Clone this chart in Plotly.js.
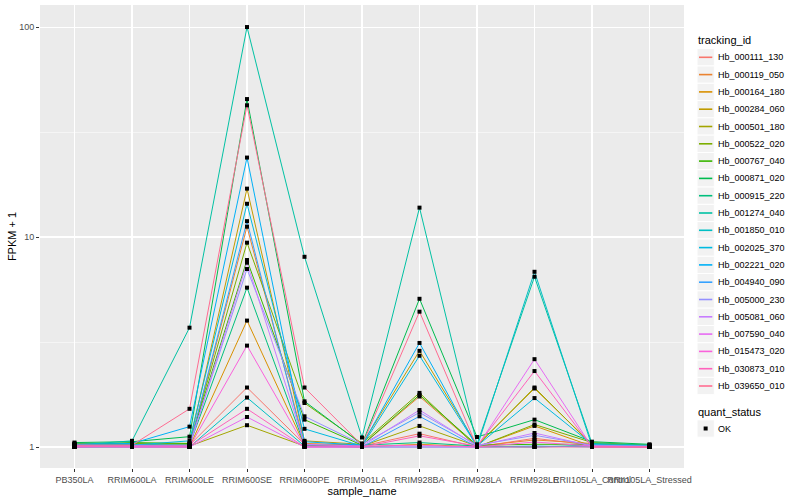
<!DOCTYPE html>
<html>
<head>
<meta charset="utf-8">
<script src="https://cdn.plot.ly/plotly-3.0.1.min.js"></script>
<style>html,body{margin:0;padding:0;background:#fff;}#chart{width:800px;height:500px;}</style>
</head>
<body>
<div id="chart"></div>
<script>
const samples = ["PB350LA","RRIM600LA","RRIM600LE","RRIM600SE","RRIM600PE","RRIM901LA","RRIM928BA","RRIM928LA","RRIM928LE","RRII105LA_Control","RRII105LA_Stressed"];
const trackingIds = ["Hb_000111_130","Hb_000119_050","Hb_000164_180","Hb_000284_060","Hb_000501_180","Hb_000522_020","Hb_000767_040","Hb_000871_020","Hb_000915_220","Hb_001274_040","Hb_001850_010","Hb_002025_370","Hb_002221_020","Hb_004940_090","Hb_005000_230","Hb_005081_060","Hb_007590_040","Hb_015473_020","Hb_030873_010","Hb_039650_010"];
const colors = ["#F8766D","#EA8331","#D89000","#C09B00","#A3A500","#7CAE00","#39B600","#00BB4E","#00BF7D","#00C1A3","#00BFC4","#00BAE0","#00B0F6","#35A2FF","#9590FF","#C77CFF","#E76BF3","#FA62DB","#FF62BC","#FF6C91"];
const quantStatus = ["OK"];

// FPKM + 1 per sample, indexed in trackingIds order
const PB350LA    = [1.02,1.01,1.00,1.03,1.01,1.04,1.02,1.05,1.03,1.02,1.00,1.01,1.03,1.00,1.02,1.01,1.00,1.01,1.00,1.02];
const RRIM600LA  = [1.01,1.02,1.00,1.03,1.01,1.04,1.05,1.06,1.03,1.07,1.00,1.02,1.04,1.01,1.02,1.01,1.00,1.00,1.01,1.02];
const RRIM600LE  = [1.02,1.01,1.00,1.04,1.01,1.03,1.04,1.12,1.02,3.70,1.00,1.07,1.25,1.01,1.02,1.01,1.00,1.00,1.01,1.52];
const RRIM600SE  = [1.92,11.2,4.00,17.0,1.27,9.40,7.77,45.4,5.74,100.0,1.72,14.4,23.9,11.9,7.04,7.55,1.39,3.04,1.52,42.4];
const RRIM600PE  = [1.03,1.04,1.02,1.07,1.01,1.62,1.35,1.65,1.02,8.05,1.01,1.22,1.06,1.00,1.40,1.03,1.00,1.01,1.00,1.92];
const RRIM901LA  = [1.01,1.02,1.00,1.03,1.01,1.04,1.02,1.03,1.02,1.11,1.00,1.01,1.02,1.00,1.03,1.01,1.00,1.01,1.00,1.02];
const RRIM928BA  = [1.157,1.74,1.03,2.87,1.26,1.81,1.77,5.08,1.05,13.8,1.00,2.72,3.13,1.40,1.46,1.50,1.00,1.02,1.13,4.41];
const RRIM928LA  = [1.00,1.01,1.00,1.02,1.01,1.00,1.02,1.116,1.01,1.03,1.00,1.01,1.00,1.00,1.02,1.01,1.00,1.00,1.01,1.00];
const RRIM928LE  = [1.10,1.08,1.26,1.90,1.92,1.28,1.03,1.35,1.00,6.47,6.83,1.71,1.01,1.00,1.137,1.166,2.62,1.056,2.30,1.00];
const RRII105LA_Control  = [1.02,1.04,1.01,1.03,1.02,1.05,1.03,1.06,1.02,1.04,1.01,1.03,1.00,1.01,1.02,1.01,1.00,1.01,1.00,1.00];
const RRII105LA_Stressed = [1.01,1.02,1.00,1.01,1.00,1.02,1.01,1.03,1.01,1.02,1.00,1.01,1.00,1.00,1.01,1.00,1.00,1.00,1.00,1.00];

const bySample = [PB350LA,RRIM600LA,RRIM600LE,RRIM600SE,RRIM600PE,RRIM901LA,RRIM928BA,RRIM928LA,RRIM928LE,RRII105LA_Control,RRII105LA_Stressed];

const FONT = "Liberation Sans, Arial, sans-serif";
const traces = trackingIds.map((id, i) => ({
  type: "scatter", mode: "lines", name: id,
  x: samples, y: bySample.map(arr => arr[i]),
  line: {color: colors[i], width: 1},
  hoverinfo: "skip", showlegend: false
}));
const px = [], py = [];
samples.forEach((s, j) => bySample[j].forEach(v => { px.push(s); py.push(v); }));
traces.push({
  type: "scatter", mode: "markers", name: quantStatus[0],
  x: px, y: py,
  marker: {color: "#000", size: 4, symbol: "square"},
  hoverinfo: "skip", showlegend: false
});

// ---- manual ggplot-style legend (layout only) ----
const W = 800, H = 500, M = {l: 40, r: 116, t: 5, b: 32};
const PW = W - M.l - M.r, PH = H - M.t - M.b;
const fx = p => (p - M.l) / PW;
const fy = p => (H - M.b - p) / PH;
const LEG_X = 697, KEY = 17.3, ROW0 = 57.3;
const shapes = [], annotations = [];
annotations.push({xref: "paper", yref: "paper", x: fx(LEG_X - 1), y: fy(40), xanchor: "left", yanchor: "middle",
  text: "tracking_id", showarrow: false, font: {family: FONT, size: 11, color: "#000"}});
trackingIds.forEach((id, i) => {
  const cy = ROW0 + i * KEY;
  shapes.push({type: "rect", xref: "paper", yref: "paper", x0: fx(LEG_X), x1: fx(LEG_X + KEY), y0: fy(cy - KEY / 2), y1: fy(cy + KEY / 2),
    fillcolor: "#F2F2F2", line: {color: "#fff", width: 1}, layer: "above"});
  shapes.push({type: "line", xref: "paper", yref: "paper", x0: fx(LEG_X + 2), x1: fx(LEG_X + KEY - 2), y0: fy(cy), y1: fy(cy),
    line: {color: colors[i], width: 1.6}, layer: "above"});
  annotations.push({xref: "paper", yref: "paper", x: fx(LEG_X + KEY + 2), y: fy(cy), xanchor: "left", yanchor: "middle",
    text: id, showarrow: false, font: {family: FONT, size: 9, color: "#000"}});
});
annotations.push({xref: "paper", yref: "paper", x: fx(LEG_X - 1), y: fy(412), xanchor: "left", yanchor: "middle",
  text: "quant_status", showarrow: false, font: {family: FONT, size: 11, color: "#000"}});
quantStatus.forEach((q, i) => {
  const cy = 428.5 + i * KEY;
  shapes.push({type: "rect", xref: "paper", yref: "paper", x0: fx(LEG_X), x1: fx(LEG_X + KEY), y0: fy(cy - KEY / 2), y1: fy(cy + KEY / 2),
    fillcolor: "#F2F2F2", line: {color: "#fff", width: 1}, layer: "above"});
  shapes.push({type: "rect", xref: "paper", yref: "paper", x0: fx(LEG_X + KEY / 2 - 2), x1: fx(LEG_X + KEY / 2 + 2), y0: fy(cy - 2), y1: fy(cy + 2),
    fillcolor: "#000", line: {width: 0}, layer: "above"});
  annotations.push({xref: "paper", yref: "paper", x: fx(LEG_X + KEY + 2), y: fy(cy), xanchor: "left", yanchor: "middle",
    text: q, showarrow: false, font: {family: FONT, size: 9, color: "#000"}});
});

const layout = {
  width: W, height: H,
  margin: {l: M.l, r: M.r, t: M.t, b: M.b, pad: 0},
  paper_bgcolor: "#fff", plot_bgcolor: "#EBEBEB",
  font: {family: FONT, size: 9, color: "#000"},
  showlegend: false,
  xaxis: {
    type: "category", range: [-0.6, 10.6], tickangle: 0,
    showgrid: true, gridcolor: "#fff", gridwidth: 1.1,
    ticks: "outside", ticklen: 3, tickcolor: "#333", tickwidth: 1,
    tickfont: {family: FONT, size: 9, color: "#4D4D4D"},
    showline: false, zeroline: false,
    title: {text: "sample_name", font: {family: FONT, size: 11, color: "#000"}, standoff: 3}
  },
  yaxis: {
    type: "log", range: [-0.1, 2.105],
    tickvals: [1, 10, 100], ticktext: ["1", "10", "100"],
    showgrid: true, gridcolor: "#fff", gridwidth: 1.1,
    minor: {tickvals: [3.1623, 31.623], showgrid: true, gridcolor: "#fff", gridwidth: 0.5, ticks: ""},
    ticks: "outside", ticklen: 3, tickcolor: "#333", tickwidth: 1,
    tickfont: {family: FONT, size: 9, color: "#4D4D4D"},
    showline: false, zeroline: false,
    title: {text: "FPKM + 1", font: {family: FONT, size: 11, color: "#000"}, standoff: 0}
  },
  shapes: shapes,
  annotations: annotations
};

Plotly.newPlot("chart", traces, layout, {displayModeBar: false, staticPlot: true});
</script>
</body>
</html>
